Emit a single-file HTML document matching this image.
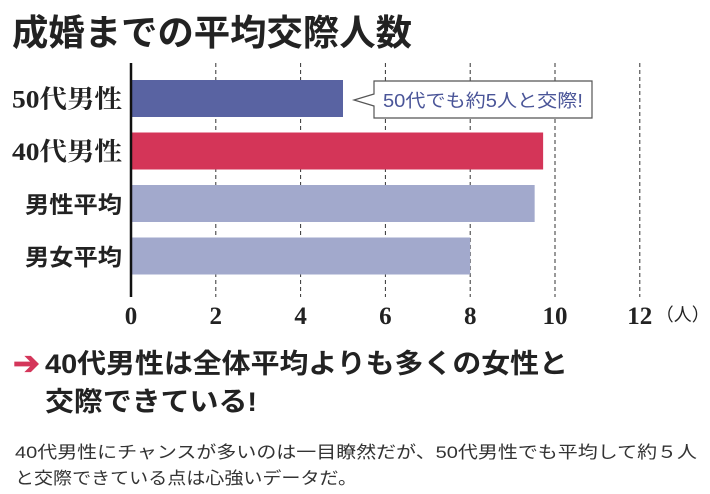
<!DOCTYPE html>
<html><head><meta charset="utf-8"><style>
html,body{margin:0;padding:0;background:#fff;}
svg{display:block;}
text{font-family:"Liberation Sans","Noto Sans CJK JP",sans-serif;}
.ser{font-family:"Liberation Serif","Noto Serif CJK SC",serif;}
</style></head><body>
<svg id="c" width="710" height="494" viewBox="0 0 710 494">
<text x="12" y="45" font-size="36" font-weight="bold" fill="#222" textLength="400" lengthAdjust="spacingAndGlyphs">成婚までの平均交際人数</text>
<g id="grid"></g>
<g id="bars"></g>
<g id="labels"></g>
<g id="ticks"></g>
<g>
<path d="M374,81 H592 V118 H374 V106 L354,100 L374,94 Z" fill="#fff" stroke="#555" stroke-width="1.2"/>
<text x="483" y="107" font-size="18" fill="#4a5598" text-anchor="middle" textLength="200" lengthAdjust="spacingAndGlyphs">50代でも約5人と交際!</text>
</g>
<text x="13" y="374" font-size="32" font-weight="bold" fill="#d4365a">➔</text>
<text x="45" y="373" font-size="27" font-weight="bold" fill="#222" textLength="523" lengthAdjust="spacingAndGlyphs">40代男性は全体平均よりも多くの女性と</text>
<text x="45" y="411" font-size="27" font-weight="bold" fill="#222" textLength="212" lengthAdjust="spacingAndGlyphs">交際できている!</text>
<text x="15" y="458" font-size="17" fill="#333" textLength="682" lengthAdjust="spacingAndGlyphs">40代男性にチャンスが多いのは一目瞭然だが、50代男性でも平均して約５人</text>
<text x="15" y="484" font-size="17" fill="#333" textLength="342" lengthAdjust="spacingAndGlyphs">と交際できている点は心強いデータだ。</text>
</svg>
<script>
const categories=["50代男性","40代男性","男性平均","男女平均"];
const values=[5.0,9.72,9.52,8.0];
const barColors=["#5963a2","#d43558","#a2a9cc","#a2a9cc"];
const tickValues=[0,2,4,6,8,10,12];
const tickLabels=["0","2","4","6","8","10","12"];
const NS="http://www.w3.org/2000/svg";
const x0=131,pxPer=42.4,yTop=63,yBottom=297,rowTop=80,rowStep=52.5,barH=37;
const xs=v=>x0+v*pxPer;
const ys=i=>rowTop+i*rowStep;
function mk(tag,attrs,parent){const e=document.createElementNS(NS,tag);for(const k in attrs)e.setAttribute(k,attrs[k]);parent.appendChild(e);return e;}
const grid=document.getElementById('grid'),bars=document.getElementById('bars'),labels=document.getElementById('labels'),ticks=document.getElementById('ticks');
tickValues.forEach((t,i)=>{
 if(t>0){const l=mk('line',{x1:xs(t),x2:xs(t),y1:yTop,y2:yBottom,stroke:'#333','stroke-width':1,'stroke-dasharray':'4,3'},grid);
 
 }
 const tx=mk('text',{x:xs(t),y:324,'font-size':25,'font-weight':'bold','text-anchor':'middle',fill:'#222',class:'ser'},ticks);
 tx.textContent=tickLabels[i];
 
 
});
const unit=mk('text',{x:xs(12)+16,y:321,'font-size':18,fill:'#222'},ticks);unit.textContent='（人）';


categories.forEach((c,i)=>{
 const r=mk('rect',{x:x0,y:ys(i),width:xs(values[i])-x0,height:barH,fill:barColors[i]},bars);
 
 
 const bold=i<2;
 const t=mk('text',{x:122,y:ys(i)+barH/2+9,'font-size':bold?25:23,'font-weight':'bold','text-anchor':'end',fill:'#222',class:bold?'ser':''},labels);
 t.textContent=c;
 t.setAttribute('textLength',bold?110:97);
 t.setAttribute('lengthAdjust','spacingAndGlyphs');
 
 
});
const ax=mk('line',{x1:x0,x2:x0,y1:yTop,y2:yBottom,stroke:'#111','stroke-width':2.5},bars);


</script>
</body></html>
